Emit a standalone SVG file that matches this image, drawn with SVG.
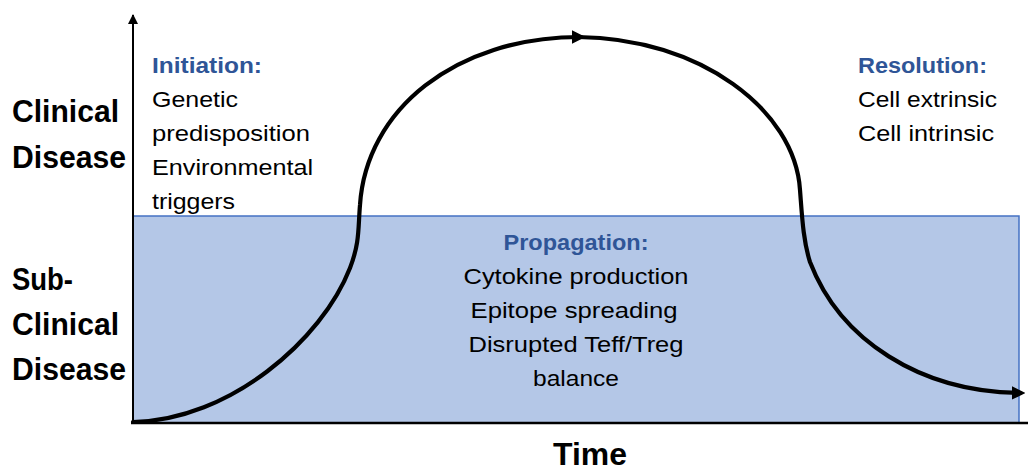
<svg xmlns="http://www.w3.org/2000/svg" width="1028" height="470" viewBox="0 0 1028 470">
<style>
.t{font-family:"Liberation Sans",Arial,sans-serif;font-size:22.5px;fill:#000}
.h{font-family:"Liberation Sans",Arial,sans-serif;font-size:22px;font-weight:bold;fill:#2F5597}
.ax{font-family:"Liberation Sans",Arial,sans-serif;font-size:32px;font-weight:bold;fill:#000}
.c{text-anchor:middle}
.curve{fill:none;stroke:#000;stroke-width:4.2;stroke-linecap:round}
</style>
<defs>
<marker id="ah" viewBox="0 0 10 10" refX="6" refY="5" markerWidth="3.2" markerHeight="3.2" orient="auto" markerUnits="strokeWidth">
<path d="M0,0 L10,5 L0,10 z" fill="#000"/>
</marker>
<marker id="ax" viewBox="0 0 10 10" refX="9" refY="5" markerWidth="5" markerHeight="5" orient="auto" markerUnits="strokeWidth">
<path d="M0,0 L10,5 L0,10 z" fill="#000"/>
</marker>
</defs>
<rect id="subclinical-band" x="133" y="216" width="886" height="207" fill="#B4C7E7" stroke="#4472C4" stroke-width="1.5"/>
<g id="axes">
<line x1="133" y1="423" x2="133" y2="15" stroke="#000" stroke-width="2" marker-end="url(#ax)"/>
<line x1="131" y1="423" x2="1028" y2="423" stroke="#000" stroke-width="2.5"/>
</g>
<g id="connectors">
<path class="curve" d="M133,422 C230,420 322,340 350,268 C360,242 358,228 360,205 C366,110 455,37 580,37" marker-end="url(#ah)"/>
<path class="curve" d="M578,37 C700,38 795,110 800,190 C802,215 803,240 810,262 C840,340 920,392 1020,393" marker-end="url(#ah)"/>
</g>
<g id="y-labels">
<text class="ax" x="12" y="122" textLength="107" lengthAdjust="spacingAndGlyphs">Clinical</text>
<text class="ax" x="12" y="168" textLength="114" lengthAdjust="spacingAndGlyphs">Disease</text>
<text class="ax" x="12" y="290" textLength="61" lengthAdjust="spacingAndGlyphs">Sub-</text>
<text class="ax" x="12" y="335" textLength="107" lengthAdjust="spacingAndGlyphs">Clinical</text>
<text class="ax" x="12" y="380" textLength="114" lengthAdjust="spacingAndGlyphs">Disease</text>
</g>
<g id="initiation">
<text class="h" x="152" y="73" textLength="110" lengthAdjust="spacingAndGlyphs">Initiation:</text>
<text class="t" x="152" y="107" textLength="86" lengthAdjust="spacingAndGlyphs">Genetic</text>
<text class="t" x="152" y="141" textLength="158" lengthAdjust="spacingAndGlyphs">predisposition</text>
<text class="t" x="152" y="175" textLength="161" lengthAdjust="spacingAndGlyphs">Environmental</text>
<text class="t" x="152" y="209" textLength="83" lengthAdjust="spacingAndGlyphs">triggers</text>
</g>
<g id="resolution">
<text class="h" x="858" y="73" textLength="129" lengthAdjust="spacingAndGlyphs">Resolution:</text>
<text class="t" x="858" y="107" textLength="139" lengthAdjust="spacingAndGlyphs">Cell extrinsic</text>
<text class="t" x="858" y="141" textLength="136" lengthAdjust="spacingAndGlyphs">Cell intrinsic</text>
</g>
<g id="propagation">
<text class="h c" x="576" y="250" textLength="145" lengthAdjust="spacingAndGlyphs">Propagation:</text>
<text class="t c" x="576" y="284" textLength="225" lengthAdjust="spacingAndGlyphs">Cytokine production</text>
<text class="t c" x="574" y="318" textLength="207" lengthAdjust="spacingAndGlyphs">Epitope spreading</text>
<text class="t c" x="576" y="352" textLength="215" lengthAdjust="spacingAndGlyphs">Disrupted Teff/Treg</text>
<text class="t c" x="576" y="386" textLength="86" lengthAdjust="spacingAndGlyphs">balance</text>
</g>
<g id="time-label">
<text class="ax c" x="590" y="465" textLength="74" lengthAdjust="spacingAndGlyphs">Time</text>
</g>
</svg>
